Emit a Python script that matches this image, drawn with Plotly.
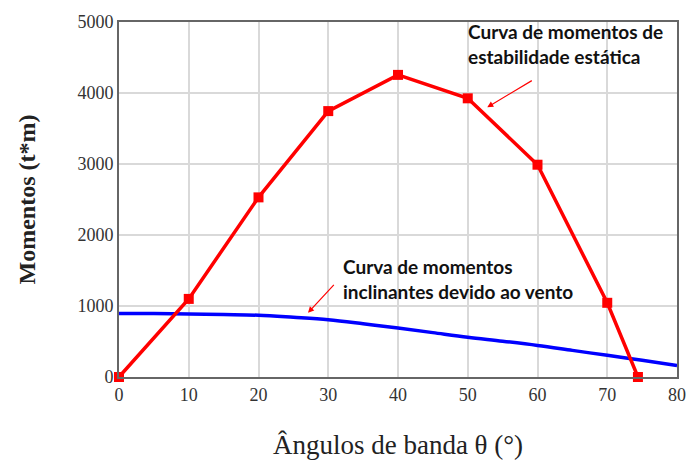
import plotly.graph_objects as go

# Static stability moment curve (red)
angles_gz = [0, 10, 20, 30, 40, 50, 60, 70, 74.4]
moments_gz = [0, 1100, 2530, 3745, 4255, 3925, 2990, 1045, 0]

# Wind heeling moment curve (blue)
angles_wind = [0, 5, 10, 15, 20, 25, 30, 35, 40, 45, 50, 55, 60, 65, 70, 75, 80]
moments_wind = [895, 893, 888, 880, 870, 840, 805, 750, 690, 625, 560, 505, 445, 375, 305, 235, 160]

x_ticks = [0, 10, 20, 30, 40, 50, 60, 70, 80]
y_ticks = [0, 1000, 2000, 3000, 4000, 5000]

fig = go.Figure()
fig.add_trace(go.Scatter(x=angles_wind, y=moments_wind, mode="lines",
                         line=dict(color="#0000ff", width=3.5, shape="spline"),
                         showlegend=False, cliponaxis=True))
fig.add_trace(go.Scatter(x=angles_gz, y=moments_gz, mode="lines+markers",
                         line=dict(color="#ff0000", width=3.5),
                         marker=dict(symbol="square", size=10, color="#ff0000"),
                         showlegend=False, cliponaxis=False))

axis_common = dict(showgrid=True, gridcolor="#d9d9d9", gridwidth=1.5,
                   showline=True, linecolor="#666666", linewidth=2, mirror=True,
                   zeroline=False, ticks="",
                   tickfont=dict(family="Liberation Serif", size=18, color="#333333"))
fig.update_xaxes(range=[0, 80], tickvals=x_ticks, **axis_common,
                 title=dict(text="Ângulos de banda θ (°)",
                            font=dict(family="Liberation Serif", size=27, color="#222222"),
                            standoff=32))
fig.update_yaxes(range=[0, 5000], tickvals=y_ticks, **axis_common,
                 title=dict(text="<b>Momentos (t*m)</b>",
                            font=dict(family="Liberation Serif", size=24, color="#222222"),
                            standoff=35))

ann_font = dict(family="Lato", size=19, color="#111111")
fig.add_annotation(x=49.7, y=1.012, xref="x", yref="paper", xanchor="left", yanchor="top",
                   text="<b>Curva de momentos de<br>estabilidade estática</b>",
                   showarrow=False, align="left", font=ann_font)
fig.add_annotation(x=52.8, y=3800, ax=59.4, ay=4187, xref="x", yref="y", axref="x", ayref="y",
                   text="", showarrow=True, arrowhead=2, arrowsize=1, arrowwidth=1.2,
                   arrowcolor="#ff0000")
fig.add_annotation(x=31.8, y=1740, xref="x", yref="y", xanchor="left", yanchor="top",
                   text="<b>Curva de momentos<br>inclinantes devido ao vento</b>",
                   showarrow=False, align="left", font=ann_font)
fig.add_annotation(x=27.1, y=905, ax=31.0, ay=1318, xref="x", yref="y", axref="x", ayref="y",
                   text="", showarrow=True, arrowhead=2, arrowsize=1, arrowwidth=1.2,
                   arrowcolor="#ff0000")

fig.update_layout(width=699, height=467, margin=dict(l=119, r=22, t=13, b=86),
                  plot_bgcolor="white", paper_bgcolor="white")
fig.write_html("out.html", config={"displayModeBar": False},
               post_script="document.body.style.margin='0';")
